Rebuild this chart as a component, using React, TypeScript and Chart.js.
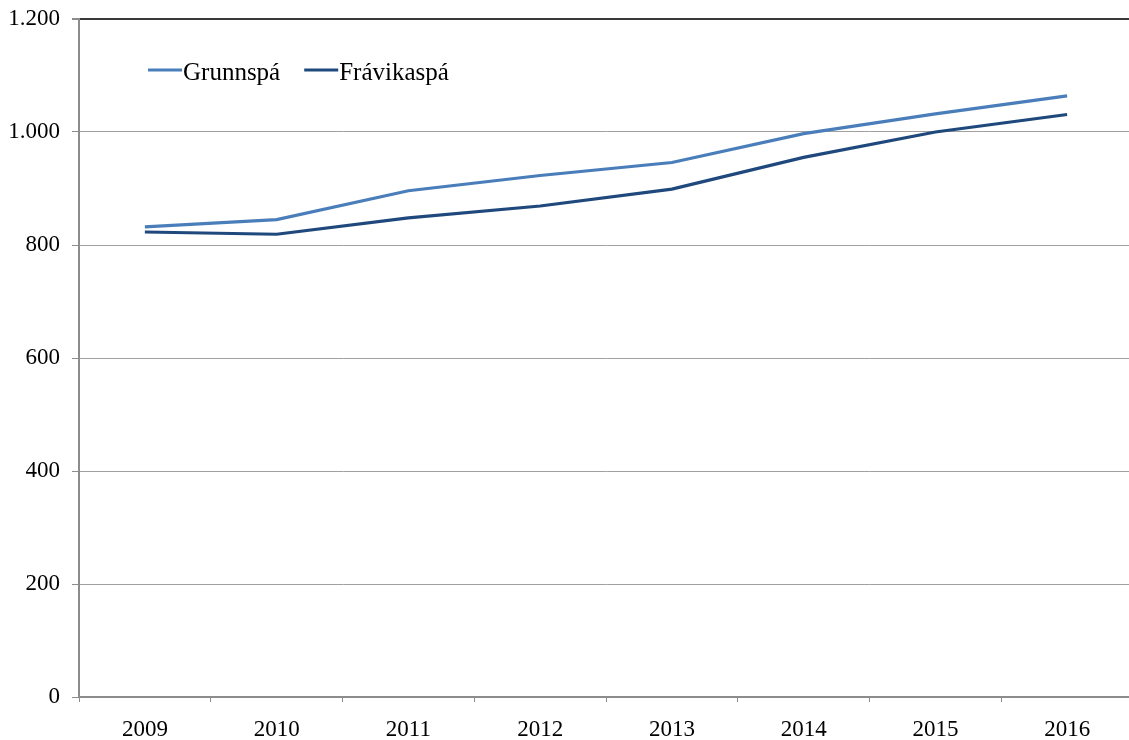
import React, { useEffect, useRef } from "react";
import { Chart, registerables } from "chart.js";

Chart.register(...registerables);

const categories = ["2009", "2010", "2011", "2012", "2013", "2014", "2015", "2016"];
const grunnspa = [832, 845, 896, 923, 946, 997, 1032, 1064];
const fravikaspa = [823, 819, 848, 869, 899, 955, 1000, 1031];
const seriesLabels = ["Grunnspá", "Frávikaspá"];
const seriesColors = ["#4a7ebb", "#1f497d"];
const yTickValues = [0, 200, 400, 600, 800, 1000, 1200];
const yTickLabels = ["0", "200", "400", "600", "800", "1.000", "1.200"];

const FONT = "'Liberation Serif', 'Times New Roman', serif";

const legendPlugin = {
  id: "insideLegend",
  afterDraw(chart: any) {
    const ctx = chart.ctx;
    ctx.save();
    ctx.font = `25px ${FONT}`;
    ctx.textBaseline = "alphabetic";
    ctx.textAlign = "left";
    let x = 148;
    const yLine = 70;
    chart.data.datasets.forEach((ds: any) => {
      ctx.strokeStyle = ds.borderColor;
      ctx.lineWidth = 3;
      ctx.beginPath();
      ctx.moveTo(x, yLine);
      ctx.lineTo(x + 34, yLine);
      ctx.stroke();
      ctx.fillStyle = "#000";
      ctx.fillText(ds.label, x + 35, 80);
      const w = ctx.measureText(ds.label).width;
      x += 35 + w + 24;
    });
    ctx.restore();
  },
};

export default function App() {
  const ref = useRef<HTMLCanvasElement>(null);
  useEffect(() => {
    if (!ref.current) return;
    const chart = new Chart(ref.current, {
      type: "line",
      data: {
        labels: categories,
        datasets: [
          {
            label: seriesLabels[0],
            data: grunnspa,
            borderColor: seriesColors[0],
            backgroundColor: seriesColors[0],
            borderWidth: 3.2,
            pointRadius: 0,
            tension: 0,
          },
          {
            label: seriesLabels[1],
            data: fravikaspa,
            borderColor: seriesColors[1],
            backgroundColor: seriesColors[1],
            borderWidth: 3.2,
            pointRadius: 0,
            tension: 0,
          },
        ],
      },
      options: {
        animation: false,
        responsive: false,
        maintainAspectRatio: false,
        layout: { padding: { top: 19, right: 7, left: 0, bottom: 0 } },
        plugins: {
          legend: { display: false },
          tooltip: { enabled: false },
        },
        scales: {
          x: {
            offset: true,
            grid: {
              offset: true,
              drawOnChartArea: false,
              drawTicks: true,
              tickLength: 5,
              color: "#8c8c8c",
              lineWidth: 1,
            },
            border: { display: true, color: "#8c8c8c", width: 2 },
            ticks: {
              color: "#000",
              font: { family: FONT, size: 23 },
              padding: 14,
              maxRotation: 0,
            },
            afterFit: (s: any) => {
              s.height = 43;
              s.paddingLeft = 0;
              s.paddingRight = 0;
            },
          },
          y: {
            min: 0,
            max: 1200,
            afterBuildTicks: (s: any) => {
              s.ticks = yTickValues.map((v) => ({ value: v }));
            },
            grid: {
              color: (c: any) => (c.tick && c.tick.value === 1200 ? "#3a3a3a" : "#a0a0a0"),
              tickColor: "#8c8c8c",
              lineWidth: (c: any) => (c.tick && c.tick.value === 1200 ? 2 : 1),
              drawTicks: true,
              tickLength: 7,
            },
            border: { display: true, color: "#8c8c8c", width: 2 },
            ticks: {
              color: "#000",
              font: { family: FONT, size: 23 },
              padding: 12,
              callback: (v: any) => {
                const i = yTickValues.indexOf(Number(v));
                return i >= 0 ? yTickLabels[i] : "";
              },
            },
            afterFit: (s: any) => {
              s.width = 79;
              s.paddingTop = 0;
              s.paddingBottom = 0;
            },
          },
        },
      },
      plugins: [legendPlugin],
    });
    return () => chart.destroy();
  }, []);

  return (
    <div
      style={{
        position: "absolute",
        left: 0,
        top: 0,
        width: 1129,
        height: 740,
        overflow: "hidden",
        background: "#fff",
      }}
    >
      <canvas ref={ref} width={1140} height={740} style={{ display: "block" }} />
    </div>
  );
}
